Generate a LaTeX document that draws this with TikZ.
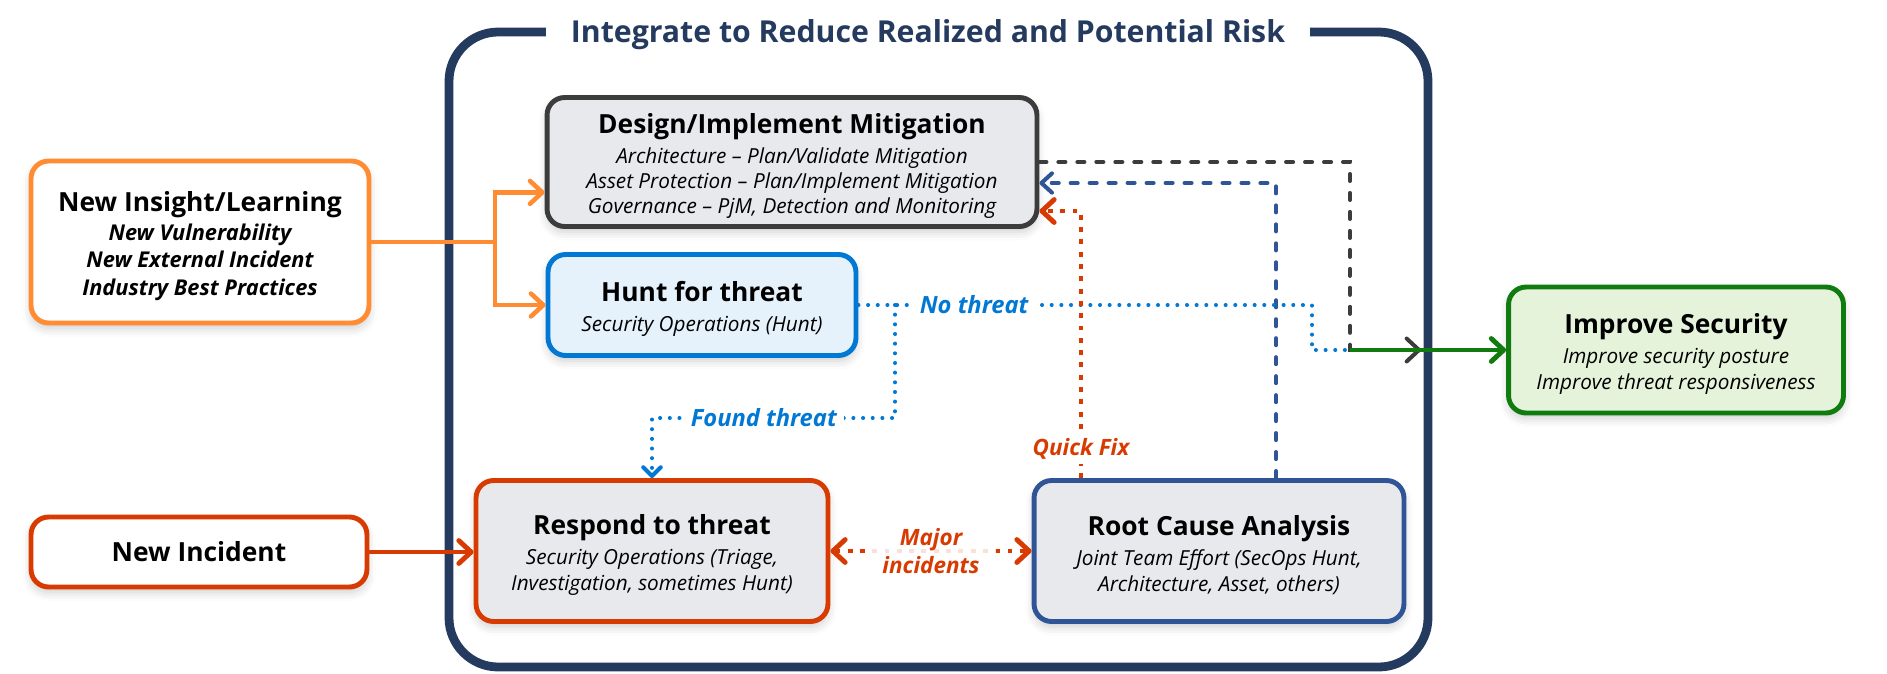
\documentclass[tikz,border=0pt]{standalone}
\usepackage{fontspec}
\setmainfont{Open Sans}
\usepackage{tikz}
\usetikzlibrary{arrows.meta,shadows.blur}

\definecolor{navy}{HTML}{243A5E}
\definecolor{charcoal}{HTML}{3C3C3C}
\definecolor{mist}{HTML}{E8E9ED}
\definecolor{huntblue}{HTML}{0078D4}
\definecolor{huntfill}{HTML}{E5F1FB}
\definecolor{insorange}{HTML}{FF8C33}
\definecolor{alertred}{HTML}{D83B01}
\definecolor{rootblue}{HTML}{2F5597}
\definecolor{okgreen}{HTML}{107C10}
\definecolor{okfill}{HTML}{E6F3DB}

\newcommand{\ttlfont}{\fontsize{17.2}{20}\selectfont\bfseries}
\newcommand{\headfont}{\fontsize{15}{18}\selectfont\bfseries\upshape}
\newcommand{\subfont}{\fontsize{11.8}{14.5}\selectfont\itshape}
\newcommand{\insfont}{\fontsize{12.4}{15.5}\selectfont\bfseries\itshape}
\newcommand{\edgefont}{\fontsize{13.5}{15}\selectfont\bfseries\itshape}
\newcommand{\redfont}{\fontsize{12.8}{16}\selectfont\bfseries\itshape}
\newcommand{\headline}[1]{{\headfont\rule{0pt}{16pt}#1}}

\tikzset{
  box/.style={draw, rounded corners=10pt, line width=2.8pt, align=center, inner sep=3pt,
    blur shadow={shadow xshift=0pt, shadow yshift=-3pt, shadow blur radius=5pt, shadow opacity=20}},
  loopframe/.style={draw=navy, line width=5pt, rounded corners=28pt},
  ttl/.style={fill=white, text=navy, font=\ttlfont, inner xsep=14pt, inner ysep=2pt},
  feed/.style={draw=insorange, line width=2.6pt},
  alarm/.style={draw=alertred, line width=2.8pt},
  gain/.style={draw=okgreen, line width=2.8pt},
  mitig/.style={draw=charcoal, line width=2.3pt, line cap=round, dash pattern=on 4pt off 6.8pt},
  rcaline/.style={draw=rootblue, line width=2.3pt, line cap=round, dash pattern=on 4pt off 6.8pt},
  quick/.style={draw=alertred, line width=2.8pt, dash pattern=on 2.8pt off 4.2pt},
  hunted/.style={draw=huntblue, line width=2.3pt, line cap=round, dash pattern=on 0pt off 5.5pt},
  chev/.style={-{Straight Barb[round,length=7pt,width=13pt]}},
  lbl/.style={fill=white, text=huntblue, font=\edgefont, inner sep=4pt},
  redlbl/.style={fill=white, text=alertred, font=\redfont, inner sep=3pt, align=center}
}

\begin{document}
\begin{tikzpicture}[x=0.02cm, y=-0.02cm, font=\subfont]
\useasboundingbox (0,0) rectangle (1887,673);

% Outer loop
\draw[loopframe] (449,32) rectangle (1428,667);
\node[ttl] (title) at (928,35) {Integrate to Reduce Realized and Potential Risk};

% Inputs
\node[box, draw=insorange, fill=white, font=\insfont, minimum width=6.76cm, minimum height=3.24cm] (insight) at (200,242)
  {\headline{New Insight/Learning}\\[1pt] New Vulnerability\\ New External Incident\\ Industry Best Practices};
\node[box, draw=alertred, fill=white, minimum width=6.72cm, minimum height=1.4cm] (incident) at (199,552)
  {\headfont New Incident};

% Inside the loop
\node[box, draw=charcoal, fill=mist, minimum width=9.8cm, minimum height=2.58cm] (design) at (792,162)
  {\headline{Design/Implement Mitigation}\\[2.5pt] Architecture – Plan/Validate Mitigation\\
   Asset Protection – Plan/Implement Mitigation\\ Governance – PjM, Detection and Monitoring};
\node[box, draw=huntblue, fill=huntfill, minimum width=6.16cm, minimum height=2.02cm] (hunt) at (702,305)
  {\headline{Hunt for threat}\\[2.5pt] Security Operations (Hunt)};
\node[box, draw=alertred, fill=mist, minimum width=7.04cm, minimum height=2.82cm] (respond) at (652,551)
  {\headline{Respond to threat}\\[2.5pt] Security Operations (Triage,\\ Investigation, sometimes Hunt)};
\node[box, draw=rootblue, fill=mist, minimum width=7.4cm, minimum height=2.82cm] (root) at (1219,551)
  {\headline{Root Cause Analysis}\\[2.5pt] Joint Team Effort (SecOps Hunt,\\ Architecture, Asset, others)};

% Output
\node[box, draw=okgreen, fill=okfill, minimum width=6.7cm, minimum height=2.52cm] (improve) at (1676,350)
  {\headline{Improve Security}\\[2.5pt] Improve security posture\\ Improve threat responsiveness};

% Bends
\coordinate (fork) at (495,242);
\coordinate (nobend) at (1312,305);
\coordinate (found) at (895,418);
\coordinate (qfix) at (1081,211);
\coordinate (rca) at (1276,183);
\coordinate (join) at (1350,350);
\coordinate (exit) at (1421,350);

% Connectors
\draw[feed] (insight.east) -- (fork);
\draw[feed, chev] (fork) |- (design.187);
\draw[feed, chev] (fork) |- (hunt.west);
\draw[alarm, chev] (incident.east) -- (incident.east -| respond.west);

\draw[mitig, chev] (design.east) -| (join) -- (exit);
\draw[rcaline, -{Straight Barb[round,length=6pt,width=11pt]}] (root.north -| rca) -- (rca) -- (rca -| design.east);
\draw[hunted] (hunt.east) -- node[lbl, pos=0.255] {No threat} (nobend) |- (join);
\draw[hunted, -{Straight Barb[round,length=5pt,width=10pt]}] (found |- hunt.east) -- (found)
  -- node[lbl, pos=0.54] {Found threat} (found -| respond.north) -- (respond.north);
\draw[quick, chev] (root.north -| qfix) -- node[redlbl, pos=0.11] {Quick Fix} (qfix) -- (qfix -| design.east);
\draw[quick, {Straight Barb[round,length=7pt,width=13pt]}-{Straight Barb[round,length=7pt,width=13pt]}]
  (respond.east) -- node[redlbl, fill opacity=0.85, text opacity=1, minimum width=2.6cm, minimum height=1.5cm] {Major\\incidents}
  (respond.east -| root.west);
\draw[gain, chev] (join) -- (join -| improve.west);

\end{tikzpicture}
\end{document}
